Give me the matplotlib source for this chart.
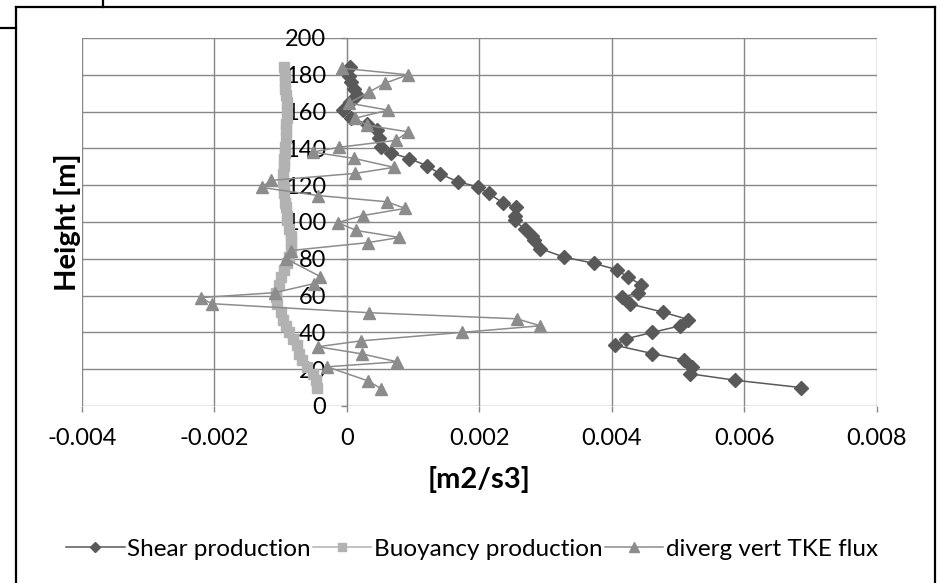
import matplotlib
matplotlib.use("Agg")
import matplotlib.pyplot as plt
from matplotlib.lines import Line2D

plt.rcParams['font.family'] = ['Lato', 'DejaVu Sans']

# heights [m] of shear / buoyancy points
heights = [10, 14, 17.5, 21, 25, 28.5, 33, 36.5, 40, 43.5, 47, 51, 55.5, 59, 61.5,
           66, 70, 74, 77.5, 81, 85.5, 90, 92.5, 96, 101, 103.5, 108, 110.5, 115.5,
           119, 122, 126, 130.5, 134.5, 137.5, 140.5, 145.5, 150, 153, 156.5, 161,
           165, 169, 172.5, 176, 179.5, 184]
shear = [0.00686, 0.00586, 0.00518, 0.00521, 0.00509, 0.00461, 0.00405, 0.00421,
         0.00461, 0.00502, 0.00515, 0.00477, 0.00427, 0.00415, 0.00439, 0.00444,
         0.00424, 0.00408, 0.00373, 0.00327, 0.00292, 0.00283, 0.00279, 0.00268,
         0.00253, 0.00253, 0.00255, 0.00235, 0.00214, 0.00198, 0.00167, 0.00141,
         0.00121, 0.00094, 0.00067, 0.00052, 0.00048, 0.00045, 0.0003, 0.00006,
         -0.00006, 0.00004, 0.00015, 0.0001, 0.00006, 0.00003, 0.00005]
buoyancy = [-0.00045, -0.00047, -0.00052, -0.0006, -0.00068, -0.00072, -0.00075,
            -0.00082, -0.00088, -0.00092, -0.00097, -0.001, -0.00105, -0.00107,
            -0.00107, -0.00103, -0.001, -0.00095, -0.0009, -0.00088, -0.00085,
            -0.00085, -0.00085, -0.00088, -0.0009, -0.0009, -0.00092, -0.00093,
            -0.00095, -0.00095, -0.00097, -0.00097, -0.00095, -0.00095, -0.00093,
            -0.00093, -0.00092, -0.00092, -0.00092, -0.0009, -0.0009, -0.0009,
            -0.00092, -0.00093, -0.00093, -0.00093, -0.00095]

# divergence of vertical TKE flux
flux_h = [9.3, 13.6, 21.3, 24, 28.3, 32.2, 35.4, 40, 43.6, 47.4, 50.7, 55.6, 58.9,
          61.6, 66.5, 70.3, 80, 84.5, 88.8, 91.6, 95.4, 99.7, 103.5, 107.4, 111,
          114.4, 118.8, 122.6, 126.4, 129.7, 134.6, 138, 140.6, 144.4, 149, 152.6,
          156.4, 160.8, 164.6, 170.6, 175.5, 180, 183.6]
flux = [0.00052, 0.00032, -0.0003, 0.00076, 0.00023, -0.00044, 0.00021, 0.00173,
        0.00292, 0.00256, 0.00033, -0.00204, -0.00221, -0.00109, -0.0005, -0.0004,
        -0.00092, -0.00085, 0.00032, 0.00079, 0.00014, -0.00014, 0.00024, 0.00088,
        0.0006, -0.00044, -0.00129, -0.00115, 0.00012, 0.00071, 0.0001, -0.00052,
        -0.00012, 0.00074, 0.00092, 0.0003, 0.00012, 0.00062, 0.00003, 0.00033,
        0.00058, 0.00092, -0.00008]

xticks = [-0.004, -0.002, 0, 0.002, 0.004, 0.006, 0.008]
xticklabels = ['-0.004', '-0.002', '0', '0.002', '0.004', '0.006', '0.008']
yticks = [0, 20, 40, 60, 80, 100, 120, 140, 160, 180, 200]

W, H = 940, 583
fig = plt.figure(figsize=(W / 100, H / 100), dpi=100)
ax = fig.add_axes([82 / W, 1 - 406 / H, 795 / W, 368 / H])

grid_c = '#878787'
ax.plot(shear, heights, color='#595959', lw=1.1, marker='D', ms=7,
        mfc='#595959', mec='#595959', label='Shear production', zorder=3)
ax.plot(buoyancy, heights, color='#b2b2b2', lw=1.1, marker='s', ms=7,
        mfc='#b2b2b2', mec='#b2b2b2', label='Buoyancy production', zorder=4)
ax.plot(flux, flux_h, color='#8c8c8c', lw=1.1, marker='^', ms=9,
        mfc='#8c8c8c', mec='#8c8c8c', label='diverg vert TKE flux', zorder=5)

ax.set_xlim(-0.004, 0.008)
ax.set_ylim(0, 200)
ax.set_xticks(xticks)
ax.set_xticklabels(xticklabels)
ax.set_yticks(yticks)
ax.grid(True, color=grid_c, lw=1.0, zorder=0)
ax.set_axisbelow(True)

for s in ['top', 'right', 'bottom']:
    ax.spines[s].set_visible(False)
ax.spines['left'].set_position(('data', 0))
ax.spines['left'].set_color(grid_c)
ax.tick_params(axis='x', direction='out', length=4, width=1, color=grid_c,
               pad=12, labelsize=17)
ax.tick_params(axis='y', direction='out', length=4, width=1, color=grid_c,
               pad=11, labelsize=17)

ax.set_xlabel('[m2/s3]', fontsize=21, fontweight='bold')
ax.xaxis.set_label_coords(0.5, -0.163)
ax.set_ylabel('Height [m]', fontsize=21, fontweight='bold', va='center')
ax.yaxis.set_label_coords(-0.018, 0.5)

fig.legend(loc='center', bbox_to_anchor=(472 / W, 1 - 549 / H), ncol=3,
           frameon=False, fontsize=17.5, handlelength=2.4, handletextpad=0.1,
           columnspacing=0.1, markerscale=0.8)

# chart frame
def fline(xs, ys):
    fig.add_artist(Line2D([x / W for x in xs], [1 - y / H for y in ys],
                          color='black', lw=1.6, transform=fig.transFigure))

fline([16, 16], [7, 590])
fline([16, 935], [7, 7])
fline([935, 935], [7, 590])
fline([0, 16], [28, 28])
fline([103, 103], [0, 7])

fig.savefig('out.png', dpi=100)
